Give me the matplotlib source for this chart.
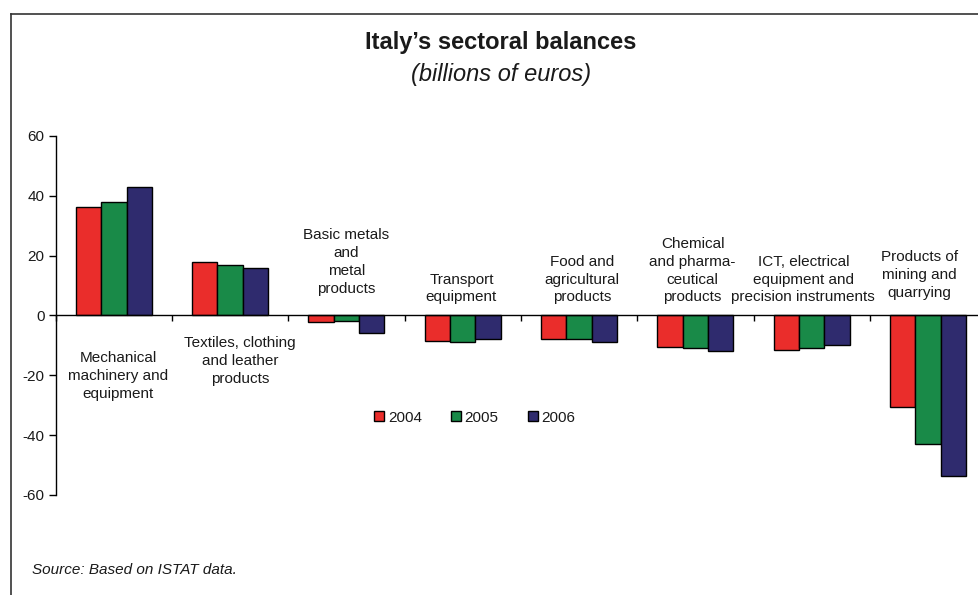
import matplotlib
matplotlib.use("Agg")
import matplotlib.pyplot as plt
from matplotlib.lines import Line2D
from matplotlib.patches import Patch
import numpy as np

plt.rcParams['font.family'] = ['Liberation Sans', 'DejaVu Sans']
plt.rcParams['axes.unicode_minus'] = False

# Sector balances, billions of euros
sectors = [
    "Mechanical\nmachinery and\nequipment",
    "Textiles, clothing\nand leather\nproducts",
    "Basic metals\nand\nmetal\nproducts",
    "Transport\nequipment",
    "Food and\nagricultural\nproducts",
    "Chemical\nand pharma-\nceutical\nproducts",
    "ICT, electrical\nequipment and\nprecision instruments",
    "Products of\nmining and\nquarrying",
]
years = ["2004", "2005", "2006"]
bal_2004 = [36.3, 17.9, -2.3, -8.7, -7.9, -10.7, -11.5, -30.6]
bal_2005 = [38.0, 16.9, -1.8, -9.0, -7.9, -10.8, -10.8, -42.9]
bal_2006 = [43.0, 16.0, -6.0, -7.9, -9.0, -11.9, -9.9, -53.8]
yticks = [-60, -40, -20, 0, 20, 40, 60]

colors = ["#ea2d2b", "#198a48", "#2f2b6e"]
txt = "#1a1a1a"

# label nudges (points) so the wrapped names sit where they read best
label_dx = [3, 7, 0, -1, 2, -2, -6, -6]
label_dy = [-25.5, -15, 14, 8, 8, 8, 8, 11]

fig = plt.figure(figsize=(9.79, 5.95), dpi=100)
ax = fig.add_axes([0.0569, 0.1681, 0.9504, 0.6034])

x = np.arange(len(sectors)) + 0.5
w = 0.218
for j, vals in enumerate([bal_2004, bal_2005, bal_2006]):
    ax.bar(x + (j - 1) * w, vals, width=w, color=colors[j],
           edgecolor="black", linewidth=1.0, zorder=2)

ax.set_xlim(0, len(sectors))
ax.set_ylim(-60, 60)
ax.set_yticks(yticks)
ax.set_yticklabels([str(v) for v in yticks], fontsize=11, color=txt)
ax.tick_params(axis="y", direction="out", length=5, width=1, pad=3)

# category axis runs along zero
ax.spines["bottom"].set_position(("data", 0))
ax.spines["bottom"].set_zorder(3)
ax.set_xticks(np.arange(len(sectors) + 1))
ax.set_xticklabels([])
ax.tick_params(axis="x", direction="out", length=4, width=1)
ax.spines["top"].set_visible(False)
ax.spines["right"].set_visible(False)
for s in ["left", "bottom"]:
    ax.spines[s].set_linewidth(1.0)
    ax.spines[s].set_color("black")

for i, name in enumerate(sectors):
    pos = bal_2004[i] > 0
    ax.annotate(name, xy=(x[i], 0), xytext=(label_dx[i], label_dy[i]),
                textcoords="offset points", ha="center",
                va="top" if pos else "bottom", fontsize=11, color=txt,
                linespacing=1.35, multialignment="center")

handles = [Patch(facecolor=c, edgecolor="black", linewidth=1.0) for c in colors]
fig.legend(handles, years, loc="center", bbox_to_anchor=(0.485, 0.298),
           ncol=3, frameon=False, fontsize=11, handlelength=0.65,
           handleheight=0.65, handletextpad=0.25, columnspacing=1.9,
           labelcolor=txt)

fig.text(0.511, 1 - 43 / 595, "Italy\u2019s sectoral balances", ha="center",
         va="center", fontsize=17, fontweight="bold", color=txt)
fig.text(0.512, 1 - 74 / 595, "(billions of euros)", ha="center",
         va="center", fontsize=17, style="italic", color=txt)
fig.text(32 / 979, 1 - 570 / 595, "Source: Based on ISTAT data.", ha="left",
         va="center", fontsize=11, style="italic", color=txt)

# box edges along the top and left
fig.add_artist(Line2D([11 / 979, 1], [1 - 14 / 595] * 2, color="#333333",
                      linewidth=1.2, transform=fig.transFigure))
fig.add_artist(Line2D([11 / 979] * 2, [0, 1 - 14 / 595], color="#333333",
                      linewidth=1.2, transform=fig.transFigure))

fig.savefig("out.png", dpi=100)
